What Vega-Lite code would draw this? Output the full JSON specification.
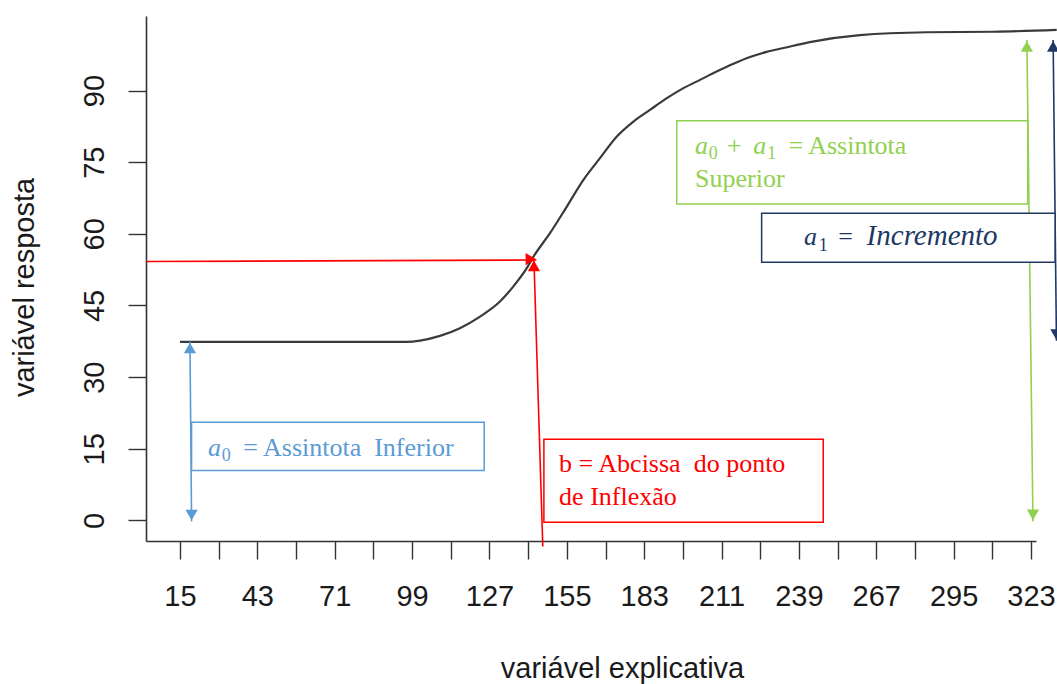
{
  "$schema": "https://vega.github.io/schema/vega-lite/v6.json",
  "width": 890,
  "height": 525,
  "autosize": {"type": "none"},
  "padding": {"left": 146, "top": 16, "right": 21, "bottom": 143},
  "background": "white",
  "config": {"view": {"stroke": null}},
  "datasets": {
    "curva": [
      {"x": 15, "y": 37.4}, {"x": 97.0, "y": 37.4}, {"x": 101.9, "y": 37.66},
      {"x": 109.1, "y": 38.64}, {"x": 116.3, "y": 40.26}, {"x": 123.6, "y": 42.68},
      {"x": 130.8, "y": 45.82}, {"x": 135.6, "y": 48.96}, {"x": 140.5, "y": 52.82},
      {"x": 142.9, "y": 55.2}, {"x": 148.9, "y": 60.14}, {"x": 155.0, "y": 65.71},
      {"x": 161.0, "y": 71.3}, {"x": 167.0, "y": 75.84}, {"x": 173.1, "y": 80.37},
      {"x": 179.1, "y": 83.5}, {"x": 185.1, "y": 85.95}, {"x": 191.2, "y": 88.4},
      {"x": 197.2, "y": 90.5}, {"x": 203.2, "y": 92.23}, {"x": 209.2, "y": 93.97},
      {"x": 215.3, "y": 95.6}, {"x": 221.3, "y": 97.0}, {"x": 227.3, "y": 98.1},
      {"x": 233.4, "y": 98.9}, {"x": 243.4, "y": 100.2}, {"x": 261.1, "y": 101.6},
      {"x": 285.2, "y": 102.2}, {"x": 309.4, "y": 102.3}, {"x": 332.3, "y": 102.7}
    ],
    "setas": [
      {"cor": "azul", "x": 18.6, "y": 37.4, "x2": 19.2, "y2": -0.23},
      {"cor": "vermelho", "x": 2.7, "y": 54.2, "x2": 144.0, "y2": 54.52},
      {"cor": "vermelho", "x": 146.3, "y": -5.46, "x2": 143.1, "y2": 54.55},
      {"cor": "verde", "x": 321.5, "y": 100.6, "x2": 323.7, "y2": -0.19},
      {"cor": "marinho", "x": 331.0, "y": 100.6, "x2": 332.2, "y2": 37.6}
    ],
    "pontas": [
      {"cor": "azul", "dir": "cima", "x": 18.6, "y": 36.09},
      {"cor": "azul", "dir": "baixo", "x": 19.2, "y": 1.13},
      {"cor": "vermelho", "dir": "direita", "x": 142.0, "y": 54.7},
      {"cor": "vermelho", "dir": "cima", "x": 143.1, "y": 53.3},
      {"cor": "verde", "dir": "cima", "x": 321.5, "y": 99.25},
      {"cor": "verde", "dir": "baixo", "x": 323.7, "y": 1.17},
      {"cor": "marinho", "dir": "cima", "x": 331.0, "y": 99.25},
      {"cor": "marinho", "dir": "baixo", "x": 332.2, "y": 38.9}
    ],
    "caixas": [
      {"cor": "azul", "x": 19.2, "x2": 125.1, "y": 20.58, "y2": 10.45},
      {"cor": "vermelho", "x": 146.7, "x2": 247.8, "y": 17.02, "y2": -0.36},
      {"cor": "verde", "x": 194.8, "x2": 321.8, "y": 83.65, "y2": 66.27},
      {"cor": "marinho", "x": 225.5, "x2": 331.7, "y": 64.33, "y2": 54.07}
    ],
    "textos": [
      {"cor": "azul", "x": 37.9, "y": 13.52, "texto": "= Assintota \u00a0Inferior"},
      {"cor": "vermelho", "x": 152.2, "y": 10.24, "texto": "b = Abcissa \u00a0do ponto"},
      {"cor": "vermelho", "x": 152.2, "y": 3.27, "texto": "de Inflexão"},
      {"cor": "verde", "x": 213.0, "y": 76.74, "texto": "+"},
      {"cor": "verde", "x": 235.2, "y": 76.74, "texto": "= Assintota"},
      {"cor": "verde", "x": 201.4, "y": 69.77, "texto": "Superior"},
      {"cor": "marinho", "x": 253.2, "y": 57.69, "texto": "="}
    ],
    "variaveis": [
      {"cor": "azul", "x": 25.1, "y": 13.52, "texto": "a"},
      {"cor": "verde", "x": 201.4, "y": 76.74, "texto": "a"},
      {"cor": "verde", "x": 222.5, "y": 76.74, "texto": "a"},
      {"cor": "marinho", "x": 240.8, "y": 57.69, "texto": "a"}
    ],
    "palavras": [
      {"cor": "marinho", "x": 263.5, "y": 57.69, "texto": "Incremento"}
    ],
    "indices": [
      {"cor": "azul", "x": 30.1, "y": 12.48, "texto": "0"},
      {"cor": "verde", "x": 206.4, "y": 75.63, "texto": "0"},
      {"cor": "verde", "x": 227.5, "y": 75.63, "texto": "1"},
      {"cor": "marinho", "x": 246.2, "y": 56.5, "texto": "1"}
    ]
  },
  "layer": [
    {
      "data": {"name": "curva"},
      "mark": {"type": "line", "color": "#3a3a3a", "strokeWidth": 2.2, "interpolate": "monotone"},
      "encoding": {
        "x": {
          "field": "x", "type": "quantitative",
          "scale": {"domain": [2.7, 324.8], "nice": false, "zero": false},
          "axis": {
            "values": [15, 29, 43, 57, 71, 85, 99, 113, 127, 141, 155, 169, 183, 197, 211, 225, 239, 253, 267, 281, 295, 309, 323],
            "labelExpr": "(datum.value - 15) % 28 == 0 ? datum.label : ''",
            "grid": false,
            "tickSize": 18, "tickColor": "#333333", "tickWidth": 1.4,
            "domainColor": "#333333", "domainWidth": 1.6,
            "labelFont": "Liberation Sans", "labelFontSize": 29, "labelColor": "#1a1a1a",
            "labelBaseline": "alphabetic", "labelPadding": 46, "labelFlush": false, "labelOverlap": false,
            "title": "variável explicativa",
            "titleFont": "Liberation Sans", "titleFontSize": 29, "titleFontWeight": "normal", "titleColor": "#1a1a1a",
            "titleX": 476, "titleY": 136, "titleAlign": "center", "titleBaseline": "alphabetic", "titleAnchor": null
          }
        },
        "y": {
          "field": "y", "type": "quantitative",
          "scale": {"domain": [-4.3, 105.6], "nice": false, "zero": false},
          "axis": {
            "values": [0, 15, 30, 45, 60, 75, 90],
            "grid": false,
            "tickSize": 18, "tickColor": "#333333", "tickWidth": 1.4,
            "domainColor": "#333333", "domainWidth": 1.6,
            "labelFont": "Liberation Sans", "labelFontSize": 29, "labelColor": "#1a1a1a",
            "labelAngle": -90, "labelAlign": "center", "labelBaseline": "alphabetic", "labelPadding": 25,
            "labelFlush": false, "labelOverlap": false,
            "title": "variável resposta",
            "titleFont": "Liberation Sans", "titleFontSize": 29, "titleFontWeight": "normal", "titleColor": "#1a1a1a",
            "titleAngle": -90, "titleX": -113, "titleY": 271, "titleAlign": "center", "titleBaseline": "alphabetic"
          }
        }
      }
    },
    {
      "data": {"name": "setas"},
      "mark": {"type": "rule", "strokeWidth": 1.6},
      "encoding": {
        "x": {"field": "x", "type": "quantitative"},
        "y": {"field": "y", "type": "quantitative"},
        "x2": {"field": "x2"},
        "y2": {"field": "y2"},
        "color": {"field": "cor", "type": "nominal", "legend": null,
          "scale": {"domain": ["azul", "vermelho", "verde", "marinho"], "range": ["#5B9BD5", "#FF0000", "#92D050", "#203864"]}}
      }
    },
    {
      "data": {"name": "caixas"},
      "mark": {"type": "rect", "fill": "white", "strokeWidth": 1.5},
      "encoding": {
        "x": {"field": "x", "type": "quantitative"},
        "x2": {"field": "x2"},
        "y": {"field": "y", "type": "quantitative"},
        "y2": {"field": "y2"},
        "stroke": {"field": "cor", "type": "nominal", "legend": null,
          "scale": {"domain": ["azul", "vermelho", "verde", "marinho"], "range": ["#5B9BD5", "#FF0000", "#92D050", "#203864"]}}
      }
    },
    {
      "data": {"name": "textos"},
      "mark": {"type": "text", "font": "Liberation Serif", "fontSize": 26, "align": "left", "baseline": "alphabetic"},
      "encoding": {
        "x": {"field": "x", "type": "quantitative"},
        "y": {"field": "y", "type": "quantitative"},
        "text": {"field": "texto"},
        "color": {"field": "cor", "type": "nominal", "legend": null,
          "scale": {"domain": ["azul", "vermelho", "verde", "marinho"], "range": ["#5B9BD5", "#FF0000", "#92D050", "#203864"]}}
      }
    },
    {
      "data": {"name": "variaveis"},
      "mark": {"type": "text", "font": "Liberation Serif", "fontSize": 26, "fontStyle": "italic", "align": "left", "baseline": "alphabetic"},
      "encoding": {
        "x": {"field": "x", "type": "quantitative"},
        "y": {"field": "y", "type": "quantitative"},
        "text": {"field": "texto"},
        "color": {"field": "cor", "type": "nominal", "legend": null,
          "scale": {"domain": ["azul", "vermelho", "verde", "marinho"], "range": ["#5B9BD5", "#FF0000", "#92D050", "#203864"]}}
      }
    },
    {
      "data": {"name": "palavras"},
      "mark": {"type": "text", "font": "Liberation Serif", "fontSize": 29, "fontStyle": "italic", "align": "left", "baseline": "alphabetic"},
      "encoding": {
        "x": {"field": "x", "type": "quantitative"},
        "y": {"field": "y", "type": "quantitative"},
        "text": {"field": "texto"},
        "color": {"field": "cor", "type": "nominal", "legend": null,
          "scale": {"domain": ["azul", "vermelho", "verde", "marinho"], "range": ["#5B9BD5", "#FF0000", "#92D050", "#203864"]}}
      }
    },
    {
      "data": {"name": "indices"},
      "mark": {"type": "text", "font": "Liberation Serif", "fontSize": 18, "align": "left", "baseline": "alphabetic"},
      "encoding": {
        "x": {"field": "x", "type": "quantitative"},
        "y": {"field": "y", "type": "quantitative"},
        "text": {"field": "texto"},
        "color": {"field": "cor", "type": "nominal", "legend": null,
          "scale": {"domain": ["azul", "vermelho", "verde", "marinho"], "range": ["#5B9BD5", "#FF0000", "#92D050", "#203864"]}}
      }
    },
    {
      "data": {"name": "pontas"},
      "mark": {"type": "point", "filled": true, "opacity": 1, "size": 150, "strokeWidth": 0},
      "encoding": {
        "x": {"field": "x", "type": "quantitative"},
        "y": {"field": "y", "type": "quantitative"},
        "shape": {"field": "dir", "type": "nominal", "legend": null,
          "scale": {"domain": ["cima", "baixo", "direita"], "range": ["triangle-up", "triangle-down", "triangle-right"]}},
        "color": {"field": "cor", "type": "nominal", "legend": null,
          "scale": {"domain": ["azul", "vermelho", "verde", "marinho"], "range": ["#5B9BD5", "#FF0000", "#92D050", "#203864"]}}
      }
    }
  ]
}
